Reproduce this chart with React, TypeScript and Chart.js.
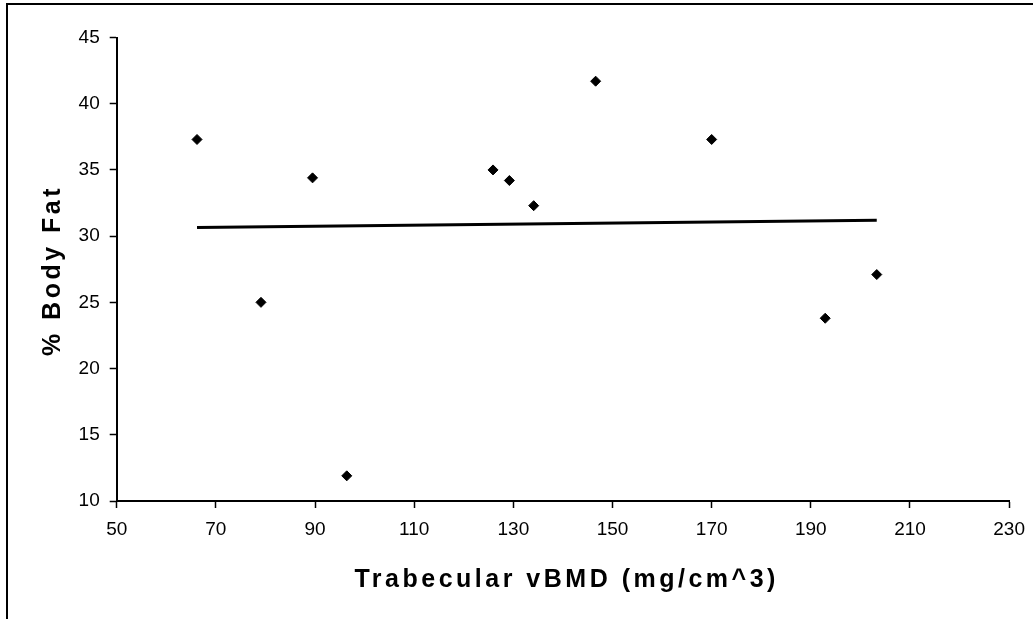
import React, { useEffect, useRef } from 'react';
import { Chart, registerables } from 'chart.js';

Chart.register(...registerables);

// Data
const bmd = [66.2, 79.1, 89.5, 96.4, 125.9, 129.2, 134.1, 146.6, 170.0, 192.9, 203.3];
const bodyFat = [37.3, 25.0, 34.4, 11.9, 35.0, 34.2, 32.3, 41.7, 37.3, 23.8, 27.1];
const xTickValues = [50, 70, 90, 110, 130, 150, 170, 190, 210, 230];
const yTickValues = [10, 15, 20, 25, 30, 35, 40, 45];
const xTitle = 'Trabecular vBMD (mg/cm^3)';
const yTitle = '% Body Fat';

// Least-squares trend line (as the original spreadsheet computed it)
function trend(xs: number[], ys: number[]) {
  const n = xs.length;
  const mx = xs.reduce((a, b) => a + b, 0) / n;
  const my = ys.reduce((a, b) => a + b, 0) / n;
  let sxy = 0;
  let sxx = 0;
  for (let i = 0; i < n; i++) {
    sxy += (xs[i] - mx) * (ys[i] - my);
    sxx += (xs[i] - mx) * (xs[i] - mx);
  }
  const slope = sxy / sxx;
  const icpt = my - slope * mx;
  const x0 = Math.min(...xs);
  const x1 = Math.max(...xs);
  return [
    { x: x0, y: icpt + slope * x0 },
    { x: x1, y: icpt + slope * x1 },
  ];
}

const W = 1033;
const H = 619;
const PLOT_LEFT = 116.7;
const PLOT_RIGHT = 1009.3;
const PLOT_TOP = 37.5;
const PLOT_BOTTOM = 501;

const decorPlugin = {
  id: 'decor',
  beforeDraw(chart: any) {
    const ctx = chart.ctx;
    ctx.save();
    ctx.fillStyle = '#fff';
    ctx.fillRect(0, 0, chart.width, chart.height);
    ctx.fillStyle = '#000';
    ctx.fillRect(6, 3, chart.width, 2);
    ctx.fillRect(6, 3, 2, chart.height);
    ctx.restore();
  },
  afterDraw(chart: any) {
    const ctx = chart.ctx;
    const area = chart.chartArea;
    const sp = 3.5;
    ctx.save();
    ctx.fillStyle = '#000';
    ctx.font = 'bold 25px "Liberation Sans", Arial, sans-serif';
    (ctx as any).letterSpacing = sp + 'px';
    ctx.textAlign = 'center';
    ctx.textBaseline = 'alphabetic';
    const cx = (area.left + area.right) / 2 + 2;
    ctx.fillText(xTitle, cx + sp / 2, 586.7);
    const cy = (area.top + area.bottom) / 2 + 3;
    ctx.translate(59.5, cy);
    ctx.rotate(-Math.PI / 2);
    ctx.fillText(yTitle, sp / 2, 0);
    ctx.restore();
  },
};

export default function App() {
  const ref = useRef<HTMLCanvasElement | null>(null);

  useEffect(() => {
    if (!ref.current) return;
    const tickFont = { family: '"Liberation Sans", Arial, sans-serif', size: 19 };
    const chart = new Chart(ref.current, {
      type: 'scatter',
      data: {
        datasets: [
          {
            label: 'Data',
            data: bmd.map((x, i) => ({ x, y: bodyFat[i] })),
            pointStyle: 'rectRot',
            pointRadius: 5,
            pointBorderWidth: 1,
            backgroundColor: '#000',
            borderColor: '#000',
            showLine: false,
            order: 1,
          },
          {
            label: 'Trend',
            data: trend(bmd, bodyFat),
            showLine: true,
            pointRadius: 0,
            borderColor: '#000',
            borderWidth: 3,
            order: 2,
          },
        ],
      },
      options: {
        animation: false,
        responsive: true,
        maintainAspectRatio: false,
        layout: { padding: { top: PLOT_TOP, right: W - PLOT_RIGHT, left: 0, bottom: 0 } },
        plugins: {
          legend: { display: false },
          tooltip: { enabled: false },
        },
        scales: {
          x: {
            type: 'linear',
            min: 50,
            max: 230,
            afterBuildTicks: (scale: any) => {
              scale.ticks = xTickValues.map((v) => ({ value: v }));
            },
            afterFit: (scale: any) => {
              scale.height = H - PLOT_BOTTOM;
            },
            ticks: {
              font: { ...tickFont, lineHeight: 1.5 },
              color: '#000',
              padding: 8,
              maxRotation: 0,
              autoSkip: false,
            },
            grid: {
              display: true,
              drawOnChartArea: false,
              drawTicks: true,
              tickLength: 7,
              tickColor: '#000',
              tickWidth: 1.5,
            },
            border: { display: true, color: '#000', width: 2 },
          },
          y: {
            type: 'linear',
            min: 10,
            max: 45,
            afterBuildTicks: (scale: any) => {
              scale.ticks = yTickValues.map((v) => ({ value: v }));
            },
            afterFit: (scale: any) => {
              scale.width = PLOT_LEFT;
            },
            ticks: { font: tickFont, color: '#000', padding: 10, autoSkip: false },
            grid: {
              display: true,
              drawOnChartArea: false,
              drawTicks: true,
              tickLength: 7,
              tickColor: '#000',
              tickWidth: 1.5,
            },
            border: { display: true, color: '#000', width: 2 },
          },
        },
      },
      plugins: [decorPlugin],
    });
    return () => chart.destroy();
  }, []);

  return (
    <div style={{ position: 'fixed', left: 0, top: 0, width: W, height: H, background: '#fff' }}>
      <canvas ref={ref} />
    </div>
  );
}
